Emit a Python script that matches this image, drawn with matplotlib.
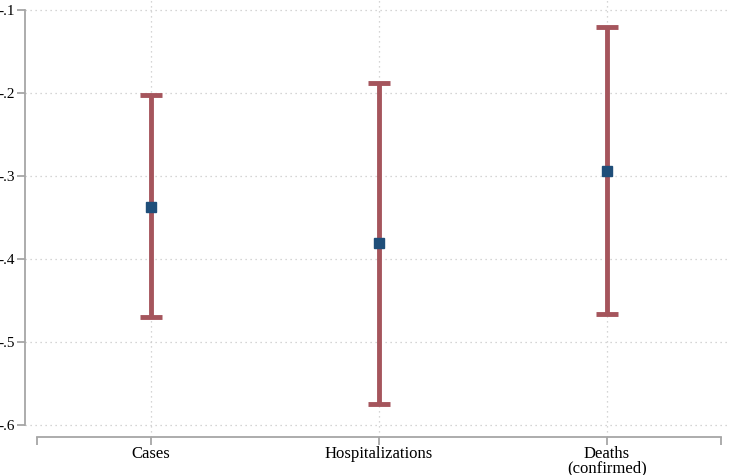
import matplotlib.pyplot as plt

categories = ["Cases", "Hospitalizations", "Deaths\n(confirmed)"]
estimates = [-0.337, -0.381, -0.294]
ci_low = [-0.470, -0.575, -0.466]
ci_high = [-0.203, -0.188, -0.121]
y_ticks = [-0.6, -0.5, -0.4, -0.3, -0.2, -0.1]
y_tick_labels = ["-.6", "-.5", "-.4", "-.3", "-.2", "-.1"]

plt.rcParams["font.family"] = ["Liberation Serif", "DejaVu Serif"]

fig = plt.figure(figsize=(7.29, 4.75), dpi=100)
# axes from x=25px to right edge, y=0 to 437px
ax = fig.add_axes([25 / 729, 1 - 437 / 475, 704 / 729, 437 / 475])

x = [1, 2, 3]
err = [[e - lo for e, lo in zip(estimates, ci_low)],
       [hi - e for e, hi in zip(estimates, ci_high)]]
ax.errorbar(x, estimates, yerr=err, fmt="none", ecolor="#a5555c",
            elinewidth=3.5, capsize=8, capthick=3.5, zorder=3)
ax.plot(x, estimates, "s", color="#1f4e79", markersize=7, zorder=4)

ax.set_xlim(0.447, 3.535)
ax.set_ylim(-0.6145, -0.088)

ax.set_yticks(y_ticks)
ax.set_yticklabels(y_tick_labels)
ax.set_xticks(x)
ax.set_xticklabels(categories, linespacing=0.85)
ax.set_xticks([0.5, 3.5], minor=True)

for s in ["top", "right"]:
    ax.spines[s].set_visible(False)
ax.spines["left"].set_bounds(-0.6, -0.1)
ax.spines["bottom"].set_bounds(0.5, 3.5)
for s in ["left", "bottom"]:
    ax.spines[s].set_color("#a6a6a6")
    ax.spines[s].set_linewidth(1.3)

ax.tick_params(axis="both", which="both", color="#a6a6a6", width=1.3,
               length=6, labelcolor="black")
ax.tick_params(axis="y", pad=1, labelsize=11)
ax.tick_params(axis="x", pad=0.5, labelsize=12)

ax.grid(True, which="major", linestyle=(0, (1, 3)), color="#c8c8c8",
        linewidth=0.9)
ax.set_axisbelow(True)

fig.savefig("out.png", dpi=100)
